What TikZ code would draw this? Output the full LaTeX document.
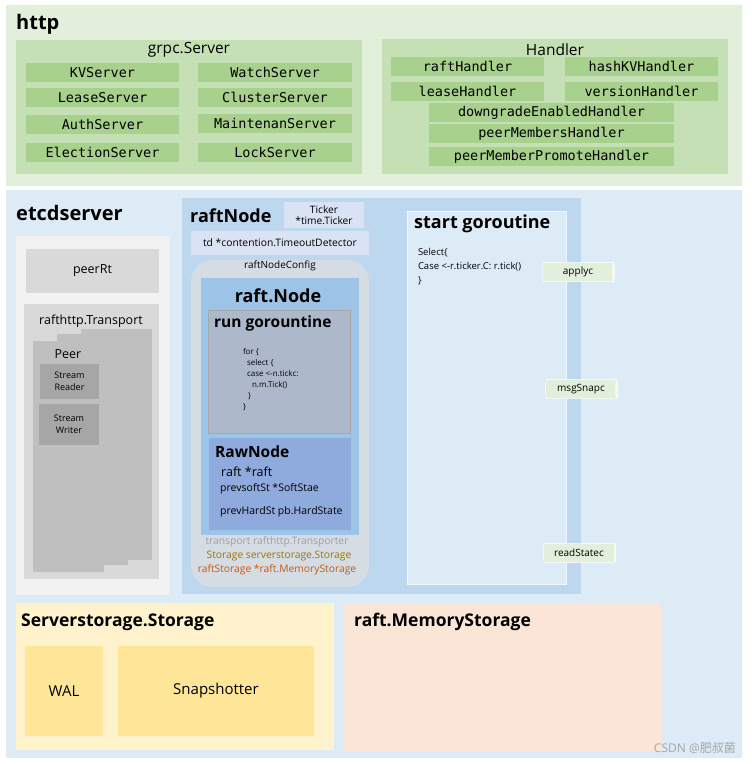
\documentclass[tikz,border=0pt]{standalone}
\usepackage{fontspec}
\setmainfont{Open Sans}
\setmonofont{DejaVu Sans Mono}
\newfontfamily\cjk{Noto Sans CJK SC}
\usetikzlibrary{shapes.geometric}
\definecolor{httpbg}{HTML}{E2EFDA}
\definecolor{grpcbg}{HTML}{C5E0B4}
\definecolor{btn}{HTML}{A9D18E}
\definecolor{etcdbg}{HTML}{DDEBF7}
\definecolor{sidebg}{HTML}{F2F2F2}
\definecolor{midgray}{HTML}{D9D9D9}
\definecolor{peergray}{HTML}{BFBFBF}
\definecolor{streamgray}{HTML}{A6A6A6}
\definecolor{nodebg}{HTML}{BDD7EE}
\definecolor{fieldbg}{HTML}{DAE3F3}
\definecolor{cfgbg}{HTML}{D6DCE4}
\definecolor{raftbg}{HTML}{9DC3E6}
\definecolor{runbg}{HTML}{ADB9CA}
\definecolor{rawbg}{HTML}{8FAADC}
\definecolor{storebg}{HTML}{FFF2CC}
\definecolor{walbg}{HTML}{FFE699}
\definecolor{membg}{HTML}{FBE5D6}
\definecolor{olivetxt}{HTML}{9C7500}
\definecolor{rusttxt}{HTML}{C55A11}

\begin{document}
\begin{tikzpicture}[x=1pt,y=-1pt,
  pane/.style={anchor=north west,inner sep=0pt,outer sep=0pt},
  srv/.style={pane,fill=btn,minimum height=19pt,font=\ttfamily\fontsize{13.5}{15}\selectfont},
  ttl/.style={anchor=west,inner sep=0pt,font=\bfseries\fontsize{#1}{#1}\selectfont},
  txt/.style={inner sep=0pt,font=\fontsize{#1}{#1}\selectfont},
  chan/.style={cylinder,shape border rotate=0,aspect=0.2,cylinder uses custom fill,
    cylinder body fill=httpbg,cylinder end fill=httpbg!50!white,draw=white,line width=0.5pt,
    minimum width=19pt,minimum height=72pt,inner sep=0pt,font=\fontsize{10}{10}\selectfont}]
\useasboundingbox (0,0) rectangle (752,764);
\fill[white] (0,0) rectangle (752,764);
% http layer
\node[pane,fill=httpbg,minimum width=736pt,minimum height=181pt] (http) at (6,5) {};
\node[ttl=20] (httpT) at (16,24) {http};
\node[pane,fill=grpcbg,minimum width=346pt,minimum height=134pt] (grpc) at (16,40) {};
\node[txt=15.5] (grpcT) at (189,50) {grpc.Server};
\foreach \n/\t/\y in {kv/KVServer/63,lease/LeaseServer/88,auth/AuthServer/115,elect/ElectionServer/143}
  \node[srv,minimum width=153pt] (\n) at (26,\y) {\t};
\foreach \n/\t/\y in {watch/WatchServer/63,cluster/ClusterServer/88,maint/MaintenanServer/114,lock/LockServer/143}
  \node[srv,minimum width=154pt] (\n) at (198,\y) {\t};
\node[pane,fill=grpcbg,minimum width=346pt,minimum height=135pt] (handler) at (382,39) {};
\node[txt=15.5] (handlerT) at (555,50) {Handler};
\node[srv,minimum width=153pt] (raftH) at (391,57) {raftHandler};
\node[srv,minimum width=153pt] (hashH) at (565,57) {hashKVHandler};
\node[srv,minimum width=153pt] (leaseH) at (391,82) {leaseHandler};
\node[srv,minimum width=153pt] (versionH) at (565,82) {versionHandler};
\foreach \n/\t/\y in {downH/downgradeEnabledHandler/103,membersH/peerMembersHandler/124,promoteH/peerMemberPromoteHandler/147}
  \node[srv,minimum width=245pt] (\n) at (429,\y) {\t};
% etcdserver
\node[pane,fill=etcdbg,minimum width=736pt,minimum height=568pt] (etcd) at (6,190) {};
\node[ttl=20] (etcdT) at (16,213) {etcdserver};
\node[pane,fill=sidebg,minimum width=154pt,minimum height=359pt] (side) at (16,236) {};
\node[pane,fill=midgray,minimum width=133pt,minimum height=44pt,font=\fontsize{12.5}{12.5}\selectfont] (peerRt) at (26,249) {peerRt};
\node[pane,fill=midgray,minimum width=135pt,minimum height=275pt] (transport) at (24,304) {};
\node[txt=12.5] (transportT) at (91,321) {rafthttp.Transport};
\node[pane,fill=peergray,minimum width=71pt,minimum height=231pt] (peer3) at (81,329) {};
\node[pane,fill=peergray,minimum width=71pt,minimum height=231pt] (peer2) at (57,334) {};
\node[pane,fill=peergray,minimum width=71pt,minimum height=231pt] (peer1) at (33,341) {};
\node[txt=12.5] (peerT) at (68,354) {Peer};
\node[pane,fill=streamgray,minimum width=59pt,minimum height=35pt,align=center,font=\fontsize{9}{12}\selectfont] (reader) at (40,364) {Stream\\Reader};
\node[pane,fill=streamgray,minimum width=60pt,minimum height=41pt,align=center,font=\fontsize{9}{12}\selectfont] (writer) at (39,404) {Stream\\Writer};
% raftNode
\node[pane,fill=nodebg,minimum width=399pt,minimum height=396pt] (raftNode) at (182,198) {};
\node[ttl=18] (raftNodeT) at (190,216) {raftNode};
\node[pane,fill=fieldbg,minimum width=80pt,minimum height=26pt,align=center,font=\fontsize{10.2}{11.5}\selectfont] (ticker) at (284,202) {Ticker\\*time.Ticker};
\node[pane,fill=fieldbg,minimum width=178pt,minimum height=24pt,font=\fontsize{10.3}{10.3}\selectfont] (td) at (191,231) {td *contention.TimeoutDetector};
\node[pane,fill=cfgbg,rounded corners=22pt,minimum width=178pt,minimum height=327pt] (cfg) at (191,260) {};
\node[txt=10] (cfgT) at (280,266) {raftNodeConfig};
\node[pane,fill=raftbg,minimum width=158pt,minimum height=257pt] (raft) at (201,278) {};
\node[txt=18,font=\bfseries\fontsize{18}{18}\selectfont] (raftT) at (278,296) {raft.Node};
\node[pane,fill=runbg,draw=streamgray,line width=0.6pt,minimum width=142pt,minimum height=123pt] (run) at (208,310) {};
\node[ttl=15.5] (runT) at (214,323) {run gorountine};
\node[pane,align=left,font=\fontsize{8}{11}\selectfont] (loop) at (243,348)
  {for \{\\\hspace*{4pt}select \{\\\hspace*{4pt}case <-n.tickc:\\\hspace*{9pt}n.m.Tick()\\\hspace*{5pt}\}\\\}};
\node[pane,fill=rawbg,minimum width=142pt,minimum height=92pt] (raw) at (209,438) {};
\node[ttl=15.5] (rawT) at (215,452) {RawNode};
\node[anchor=west,txt=12.5] (rawF1) at (221,472) {raft *raft};
\node[anchor=west,txt=10.5] (rawF2) at (220,489) {prevsoftSt *SoftStae};
\node[anchor=west,txt=10.5] (rawF3) at (220,512) {prevHardSt pb.HardState};
\node[txt=10.3,text=gray!75] (cfgF1) at (277,542) {transport rafthttp.Transporter};
\node[txt=10.3,text=olivetxt] (cfgF2) at (279,556) {Storage serverstorage.Storage};
\node[txt=10.3,text=rusttxt] (cfgF3) at (277,570) {raftStorage *raft.MemoryStorage};
% start goroutine
\node[pane,fill=etcdbg,draw=white!60!etcdbg,line width=0.6pt,minimum width=159pt,minimum height=373pt] (start) at (407,211) {};
\node[ttl=18] (startT) at (414,224) {start goroutine};
\node[pane,align=left,font=\fontsize{9.5}{14}\selectfont] (sel) at (418,248) {Select\{\\Case <-r.ticker.C: r.tick()\\\}};
\node[chan] (applyc) at (578,272) {applyc};
\node[chan] (msgSnapc) at (581,389) {msgSnapc};
\node[chan] (readStatec) at (579,553) {readStatec};
% storage
\node[pane,fill=storebg,minimum width=318pt,minimum height=147pt] (sstore) at (16,603) {};
\node[ttl=17.5] (sstoreT) at (21,622) {Serverstorage.Storage};
\node[pane,fill=walbg,minimum width=78pt,minimum height=90pt,font=\fontsize{15}{15}\selectfont] (wal) at (25,646) {WAL};
\node[pane,fill=walbg,minimum width=196pt,minimum height=90pt,font=\fontsize{15}{15}\selectfont] (snap) at (118,646) {Snapshotter};
\node[pane,fill=membg,minimum width=317pt,minimum height=148pt] (mem) at (344,603) {};
\node[ttl=17.5] (memT) at (354,622) {raft.MemoryStorage};
\node[anchor=east,txt=12,text=gray!70] (csdn) at (736,748) {CSDN @{\cjk 肥叔菌}};
\end{tikzpicture}
\end{document}
